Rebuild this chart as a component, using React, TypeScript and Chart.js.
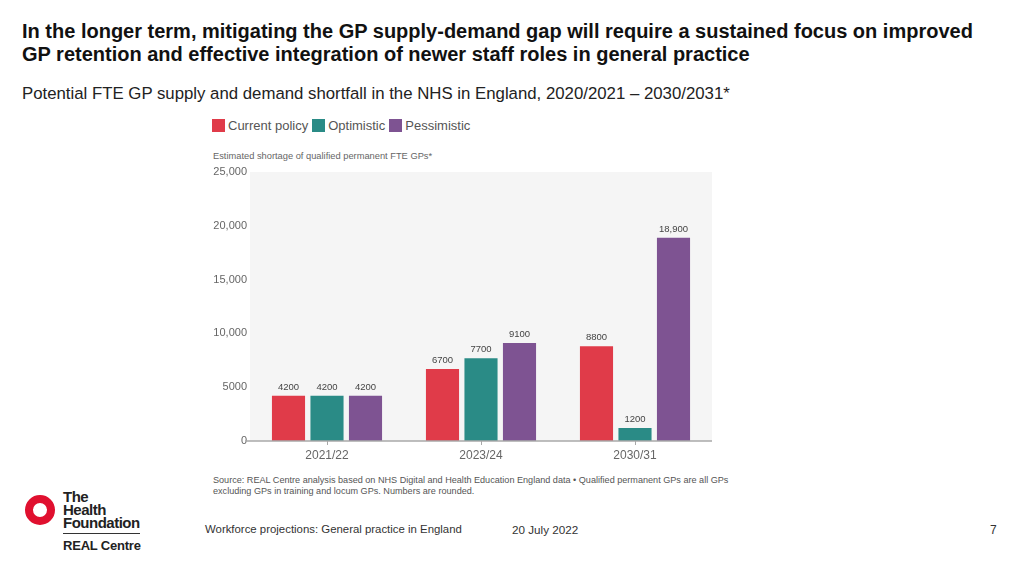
import React, { useEffect, useRef } from "react";
import { Chart, registerables } from "chart.js";

Chart.register(...registerables);

const categories = ["2021/22", "2023/24", "2030/31"];
const seriesNames = ["Current policy", "Optimistic", "Pessimistic"];
const seriesColors = ["#e03b49", "#2a8b86", "#7e5392"];
const currentPolicy = [4200, 6700, 8800];
const optimistic = [4200, 7700, 1200];
const pessimistic = [4200, 9100, 18900];
const seriesValues = [currentPolicy, optimistic, pessimistic];
const yMax = 25000;
const yStep = 5000;

const fmt = (v: number) => (v >= 10000 ? v.toLocaleString("en-GB") : String(v));

const FONT = "'Liberation Sans', Arial, sans-serif";
const NARROW = "'Liberation Sans Narrow', Arial, sans-serif";

export default function App() {
  const ref = useRef<HTMLCanvasElement | null>(null);

  useEffect(() => {
    if (!ref.current) return;
    const bgPlugin = {
      id: "bg",
      beforeDraw(chart: any) {
        const { ctx, chartArea } = chart;
        ctx.save();
        ctx.fillStyle = "#f5f5f5";
        ctx.fillRect(chartArea.left, chartArea.top, chartArea.right - chartArea.left, chartArea.bottom - chartArea.top);
        ctx.restore();
      },
      afterDraw(chart: any) {
        const { ctx, chartArea } = chart;
        const y0 = chart.scales.y.getPixelForValue(0);
        ctx.save();
        ctx.strokeStyle = "#a8a8a8";
        ctx.lineWidth = 1.5;
        ctx.beginPath();
        ctx.moveTo(chartArea.left - 5, y0);
        ctx.lineTo(chartArea.right, y0);
        ctx.stroke();
        ctx.restore();
      },
      afterDatasetsDraw(chart: any) {
        const { ctx } = chart;
        ctx.save();
        ctx.font = `9.5px ${FONT}`;
        ctx.fillStyle = "#444";
        ctx.textAlign = "center";
        ctx.textBaseline = "bottom";
        chart.data.datasets.forEach((ds: any, i: number) => {
          const meta = chart.getDatasetMeta(i);
          meta.data.forEach((bar: any, j: number) => {
            ctx.fillText(fmt(ds.data[j]), bar.x, bar.y - 4);
          });
        });
        ctx.restore();
      },
    };

    const chart = new Chart(ref.current, {
      type: "bar",
      data: {
        labels: categories,
        datasets: seriesNames.map((name, i) => ({
          label: name,
          data: seriesValues[i],
          backgroundColor: seriesColors[i],
          borderWidth: 0,
          categoryPercentage: 0.75,
          barPercentage: 0.86,
        })),
      },
      options: {
        responsive: false,
        animation: false,
        devicePixelRatio: 1,
        layout: { padding: { left: 0, right: 28, top: 12, bottom: 0 } },
        plugins: { legend: { display: false }, tooltip: { enabled: false } },
        scales: {
          x: {
            grid: { display: true, drawOnChartArea: false, offset: false, tickLength: 4, color: "#a8a8a8" },
            border: { display: false },
            ticks: { color: "#666", font: { family: FONT, size: 12 }, padding: 3 },
            afterFit(scale: any) {
              scale.height = 29;
            },
          },
          y: {
            min: 0,
            max: yMax,
            grid: { display: false, drawTicks: false },
            border: { display: false },
            ticks: {
              stepSize: yStep,
              color: "#666",
              font: { family: FONT, size: 11 },
              padding: 3,
              callback: (v: any) => fmt(Number(v)),
            },
            afterFit(scale: any) {
              scale.width = 50;
            },
          },
        },
      },
      plugins: [bgPlugin],
    });
    return () => chart.destroy();
  }, []);

  return (
    <div
      style={{
        position: "fixed",
        left: 0,
        top: 0,
        width: 1024,
        height: 576,
        background: "#fff",
        fontFamily: FONT,
        overflow: "hidden",
      }}
    >
      <div
        style={{
          position: "absolute",
          left: 22,
          top: 20,
          width: 1000,
          fontSize: 20,
          fontWeight: 700,
          lineHeight: "23px",
          color: "#111",
          whiteSpace: "nowrap",
        }}
      >
        In the longer term, mitigating the GP supply-demand gap will require a sustained focus on improved
        <br />
        GP retention and effective integration of newer staff roles in general practice
      </div>
      <div style={{ position: "absolute", left: 22, top: 84, fontSize: 16.8, color: "#222", whiteSpace: "nowrap" }}>
        Potential FTE GP supply and demand shortfall in the NHS in England, 2020/2021 – 2030/2031*
      </div>

      <div style={{ position: "absolute", left: 212, top: 118, display: "flex", alignItems: "center", fontSize: 13, color: "#555" }}>
        {seriesNames.map((n, i) => (
          <div key={n} style={{ display: "flex", alignItems: "center", marginRight: 4 }}>
            <span style={{ width: 13, height: 13, background: seriesColors[i], display: "inline-block", marginRight: 3 }} />
            <span>{n}</span>
          </div>
        ))}
      </div>
      <div style={{ position: "absolute", left: 213, top: 151, fontSize: 9.3, color: "#666", whiteSpace: "nowrap" }}>
        Estimated shortage of qualified permanent FTE GPs*
      </div>

      <canvas ref={ref} width={540} height={310} style={{ position: "absolute", left: 200, top: 160, width: 540, height: 310 }} />

      <div style={{ position: "absolute", left: 213, top: 475, fontSize: 9.1, lineHeight: "11px", color: "#555", width: 540, whiteSpace: "nowrap" }}>
        Source: REAL Centre analysis based on NHS Digital and Health Education England data • Qualified permanent GPs are all GPs
        <br />
        excluding GPs in training and locum GPs. Numbers are rounded.
      </div>

      {/* logo */}
      <div
        style={{
          position: "absolute",
          left: 25,
          top: 495,
          width: 30,
          height: 30,
          boxSizing: "border-box",
          borderRadius: "50%",
          border: "8px solid #e0102f",
        }}
      />
      <div
        style={{
          position: "absolute",
          left: 63,
          top: 490,
          fontSize: 15,
          fontWeight: 700,
          lineHeight: "13px",
          color: "#222",
          letterSpacing: -0.5,
        }}
      >
        The
        <br />
        Health
        <br />
        Foundation
      </div>
      <div style={{ position: "absolute", left: 63, top: 533, width: 77, height: 1, background: "#333" }} />
      <div style={{ position: "absolute", left: 63, top: 538, fontSize: 13, fontWeight: 700, color: "#222", letterSpacing: -0.2 }}>
        REAL Centre
      </div>

      <div style={{ position: "absolute", left: 205, top: 523, fontFamily: NARROW, fontSize: 11.4, color: "#333", whiteSpace: "nowrap" }}>
        Workforce projections: General practice in England
      </div>
      <div style={{ position: "absolute", left: 512, top: 523, fontFamily: NARROW, fontSize: 11.7, color: "#333" }}>
        20 July 2022
      </div>
      <div style={{ position: "absolute", left: 990, top: 523, fontFamily: NARROW, fontSize: 12, color: "#333" }}>
        7
      </div>
    </div>
  );
}
